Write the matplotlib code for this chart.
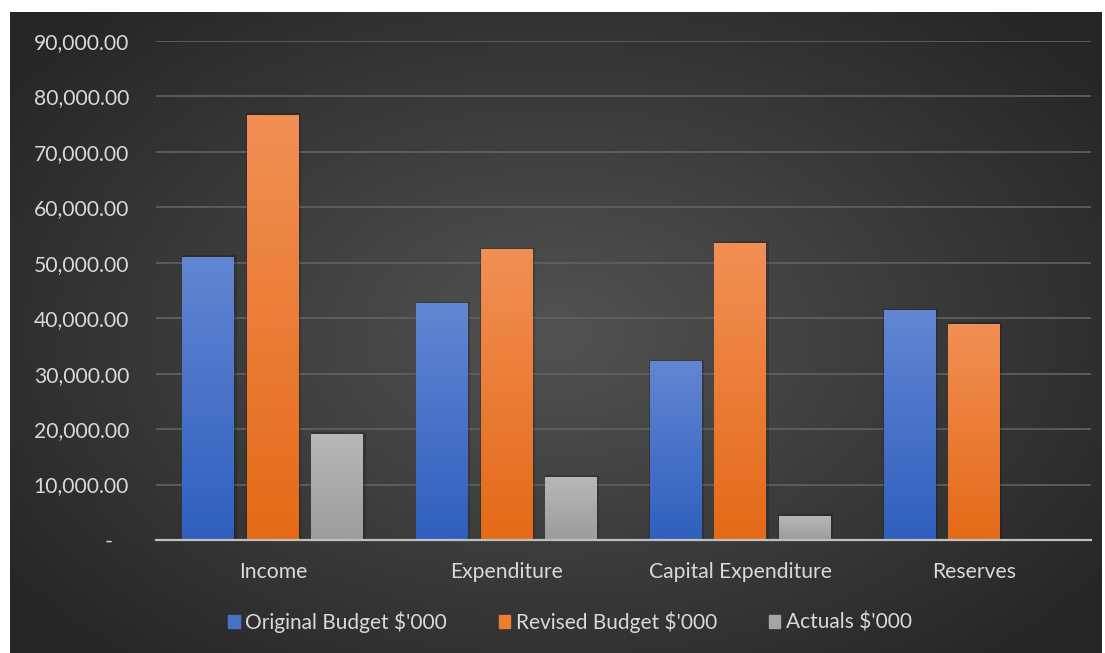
import numpy as np
import matplotlib
matplotlib.use("Agg")
import matplotlib.pyplot as plt
from matplotlib.colors import LinearSegmentedColormap
from matplotlib.ticker import FuncFormatter
from matplotlib.patches import Patch

categories = ["Income", "Expenditure", "Capital Expenditure", "Reserves"]
original = [51100, 42700, 32200, 41400]
revised = [76700, 52500, 53600, 39000]
actuals = [19200, 11400, 4400, 0]
series_names = ["Original Budget $'000", "Revised Budget $'000", "Actuals $'000"]

# (top colour, bottom colour) for each series gradient
shades = [("#6286d2", "#2f5fbe"), ("#f28f55", "#e46a17"), ("#b8b8b8", "#9c9c9c")]
solid = ["#4472c4", "#ed7d31", "#a5a5a5"]

plt.rcParams['font.family'] = ['Lato', 'DejaVu Sans']

W, H = 1105, 653
fig = plt.figure(figsize=(W / 100, H / 100), dpi=100, facecolor="white")

# dark chart area with a radial glow in the middle
bg = fig.add_axes([10 / W, 0, 1092 / W, 641 / H], zorder=-10)
yy, xx = np.mgrid[-1:1:300j, -1:1:500j]
r = np.sqrt((xx / 1.0) ** 2 + (yy / 1.1) ** 2)
glow = np.clip(1 - r / 1.25, 0, 1)
bg_cmap = LinearSegmentedColormap.from_list("bg", ["#262626", "#525252"])
bg.imshow(glow, cmap=bg_cmap, aspect="auto", extent=[0, 1, 0, 1], interpolation="bicubic")
bg.set_axis_off()

ax = fig.add_axes([156 / W, (H - 540) / H, 935 / W, 499 / H])
ax.patch.set_alpha(0)

x = np.arange(len(categories))
width = 0.222
step = 0.276
for k, vals in enumerate([original, revised, actuals]):
    bars = ax.bar(x + (k - 1) * step, vals, width, color=solid[k], zorder=3, linewidth=0)
    cmap = LinearSegmentedColormap.from_list("g%d" % k, [shades[k][1], shades[k][0]])
    for b in bars:
        if b.get_height() <= 0:
            continue
        x0, y0 = b.get_x(), b.get_y()
        # soft shadow
        ax.bar(x0 + b.get_width() / 2 + 0.004, b.get_height() + 250, b.get_width() + 0.012,
               color="black", alpha=0.18, zorder=2, linewidth=0)
        grad = np.linspace(0, 1, 256).reshape(-1, 1)
        im = ax.imshow(grad, cmap=cmap, origin="lower", aspect="auto", zorder=4,
                       extent=[x0, x0 + b.get_width(), y0, y0 + b.get_height()])
        im.set_clip_path(b)

ax.set_xlim(-0.5, len(categories) - 0.5)
ax.set_ylim(0, 90000)
ax.set_yticks(np.arange(0, 90001, 10000))
ax.yaxis.set_major_formatter(FuncFormatter(lambda v, p: "-   " if v == 0 else "{:,.2f}".format(v)))
ax.set_xticks(x)
ax.set_xticklabels(categories)
ax.tick_params(axis="y", length=0, pad=19.4, labelsize=15.2, labelcolor="#d9d9d9")
ax.tick_params(axis="x", length=0, pad=16, labelsize=15.2, labelcolor="#d9d9d9")
ax.grid(axis="y", color="#626262", linewidth=1.2, zorder=0)
for s in ["top", "right", "left"]:
    ax.spines[s].set_visible(False)
ax.spines["bottom"].set_color("#bfbfbf")
ax.spines["bottom"].set_linewidth(1.6)
ax.spines["bottom"].set_zorder(5)

handles = [Patch(color=c) for c in solid]
leg = fig.legend(handles, series_names, loc="center", bbox_to_anchor=(570 / W, 1 - 622 / H),
                 ncol=3, frameon=False, fontsize=15, labelcolor="#d9d9d9",
                 handlelength=0.55, handleheight=0.55, handletextpad=0.25, columnspacing=2.5)

fig.savefig("out.png", dpi=100, facecolor="white")
